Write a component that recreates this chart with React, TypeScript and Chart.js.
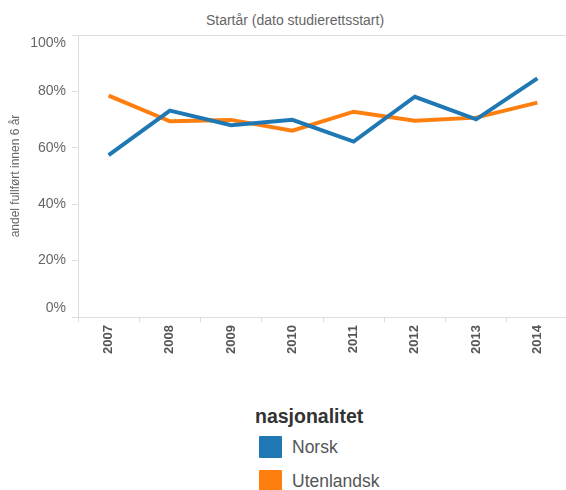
import React, { useEffect, useRef } from "react";
import { Chart, registerables } from "chart.js";

Chart.register(...registerables);

const years = ["2007", "2008", "2009", "2010", "2011", "2012", "2013", "2014"];
const norsk = [57.4, 73.2, 68.0, 69.9, 62.2, 78.1, 70.1, 84.6];
const utenlandsk = [78.5, 69.4, 69.9, 66.1, 72.8, 69.6, 70.7, 76.0];
const yTicks = [0, 20, 40, 60, 80, 100];
const seriesNames = ["Norsk", "Utenlandsk"];
const seriesColors = ["#1f77b4", "#ff7f0e"];

const FONT = "'Liberation Sans', Arial, sans-serif";

export default function App() {
  const ref = useRef<HTMLCanvasElement | null>(null);

  useEffect(() => {
    if (!ref.current) return;
    const chart = new Chart(ref.current, {
      type: "line",
      data: {
        labels: years,
        datasets: [norsk, utenlandsk].map((d, i) => ({
          label: seriesNames[i],
          data: d,
          borderColor: seriesColors[i],
          backgroundColor: seriesColors[i],
          borderWidth: 4,
          pointRadius: 0,
          tension: 0,
        })),
      },
      options: {
        animation: false,
        responsive: false,
        maintainAspectRatio: false,
        layout: { padding: { top: 35, left: 0, right: 2, bottom: 0 } },
        plugins: { legend: { display: false }, tooltip: { enabled: false }, title: { display: false } },
        scales: {
          x: {
            offset: true,
            grid: { offset: true, color: "transparent", tickColor: "#dddddd", tickLength: 5, drawTicks: true },
            border: { color: "#dddddd", width: 1 },
            ticks: {
              minRotation: 90,
              maxRotation: 90,
              color: "#555555",
              font: { family: FONT, size: 13, weight: "bold" },
              padding: 3,
            },
            afterFit: (s: any) => {
              s.height = 83;
            },
          },
          y: {
            min: 0,
            max: 100,
            afterBuildTicks: (s: any) => {
              s.ticks = yTicks.map((v) => ({ value: v }));
            },
            grid: {
              color: (ctx: any) => (ctx.tick && ctx.tick.value === 100 ? "#dddddd" : "transparent"),
              tickColor: "#dddddd",
              tickLength: 6,
            },
            border: { color: "#dddddd", width: 1 },
            ticks: {
              color: "#666666",
              font: { family: FONT, size: 14 },
              padding: 6,
              callback: (v: any) => {
                const t = v + "%";
                if (v === 100) return ["", t];
                if (v === 0) return [t, ""];
                return t;
              },
            },
            title: {
              display: true,
              text: "andel fullført innen 6 år",
              color: "#666666",
              font: { family: FONT, size: 12 },
              padding: { top: 8, bottom: 0 },
            },
            afterFit: (s: any) => {
              s.width = 78;
            },
          },
        },
      },
    });
    return () => chart.destroy();
  }, []);

  return (
    <div style={{ position: "absolute", left: 0, top: 0, width: 566, height: 490, overflow: "hidden", background: "#fff", fontFamily: FONT }}>
      <div style={{ position: "absolute", left: 0, width: 590, top: 12, textAlign: "center", fontSize: 14, color: "#666", lineHeight: "16px" }}>
        Startår (dato studierettsstart)
      </div>
      <canvas ref={ref} width={570} height={400} style={{ position: "absolute", left: 0, top: 0, width: 570, height: 400 }} />
      <div style={{ position: "absolute", left: 255, top: 405, fontSize: 19.5, fontWeight: "bold", color: "#333", lineHeight: "22px" }}>
        nasjonalitet
      </div>
      {seriesNames.map((n, i) => (
        <div key={n} style={{ position: "absolute", left: 259, top: 436 + i * 34, height: 22, display: "flex", alignItems: "center" }}>
          <div style={{ width: 23, height: 22, background: seriesColors[i], borderRadius: 1 }} />
          <span style={{ marginLeft: 10, fontSize: 17.5, color: "#555" }}>{n}</span>
        </div>
      ))}
    </div>
  );
}
